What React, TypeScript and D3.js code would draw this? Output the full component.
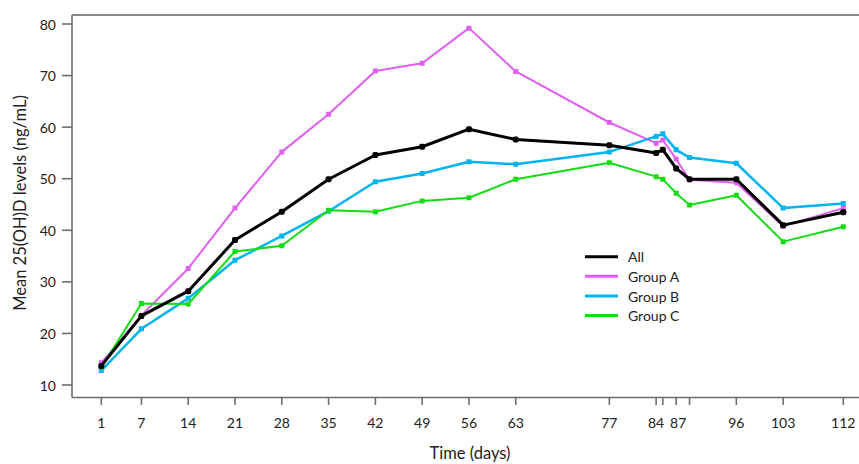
import React from "react";
import * as d3 from "d3";

const days = [1, 7, 14, 21, 28, 35, 42, 49, 56, 63, 77, 84, 85, 87, 89, 96, 103, 112];
const allValues = [13.7, 23.4, 28.2, 38.1, 43.6, 49.9, 54.6, 56.2, 59.6, 57.6, 56.5, 55.0, 55.6, 52.0, 49.9, 49.9, 41.0, 43.5];
const groupA = [14.3, 23.5, 32.6, 44.3, 55.2, 62.5, 70.9, 72.4, 79.2, 70.8, 60.9, 56.9, 57.5, 53.8, 49.8, 49.2, 40.8, 44.3];
const groupB = [12.8, 20.9, 26.8, 34.2, 38.9, 43.7, 49.4, 51.0, 53.3, 52.8, 55.2, 58.2, 58.7, 55.6, 54.1, 53.0, 44.3, 45.2];
const groupC = [13.4, 25.8, 25.7, 35.9, 37.0, 43.9, 43.6, 45.7, 46.3, 49.9, 53.1, 50.4, 49.9, 47.2, 44.9, 46.8, 37.8, 40.7];
const xTickLabels = [1, 7, 14, 21, 28, 35, 42, 49, 56, 63, 77, 84, 87, 96, 103, 112];
const yTicks = [10, 20, 30, 40, 50, 60, 70, 80];
const seriesNames = ["Group A", "Group B", "Group C", "All"];

const FONT = "Lato, 'Open Sans', sans-serif";

export default function App() {
  const x = d3.scaleLinear().domain([1, 112]).range([101.3, 843.3]);
  const y = d3.scaleLinear().domain([10, 80]).range([385, 24]);
  const line = d3
    .line<number>()
    .x((_, i) => x(days[i]))
    .y((v) => y(v));

  const series = [
    { name: seriesNames[0], values: groupA, color: "#e05ef2", width: 2 },
    { name: seriesNames[1], values: groupB, color: "#00b4f0", width: 2.5 },
    { name: seriesNames[2], values: groupC, color: "#12dc12", width: 2 },
    { name: seriesNames[3], values: allValues, color: "#000000", width: 3 },
  ];
  const legendOrder = [series[3], series[0], series[1], series[2]];
  const legendY = [256.7, 276.3, 296, 315.5];
  const axisColor = "#6e6e6e";

  return (
    <svg
      width={859}
      height={464}
      style={{ position: "absolute", left: 0, top: 0, background: "#fff" }}
      fontFamily={FONT}
    >
      <rect x={0} y={0} width={859} height={464} fill="#fff" />
      {/* frame */}
      <line x1={72} x2={872} y1={15} y2={15} stroke="#8a8a8a" strokeWidth={2} />
      <line x1={72} x2={72} y1={15} y2={397.5} stroke={axisColor} strokeWidth={1.6} />
      <line x1={72} x2={872} y1={397.5} y2={397.5} stroke={axisColor} strokeWidth={1.6} />

      {/* y ticks */}
      {yTicks.map((t) => (
        <g key={t}>
          <line x1={62} x2={72} y1={y(t)} y2={y(t)} stroke={axisColor} strokeWidth={1.6} />
          <text x={56} y={y(t)} textAnchor="end" dominantBaseline="central" fontSize={14} fill="#222">
            {t}
          </text>
        </g>
      ))}

      {/* x ticks */}
      {days.map((d) => (
        <line key={d} x1={x(d)} x2={x(d)} y1={397.5} y2={405} stroke={axisColor} strokeWidth={1.6} />
      ))}
      {xTickLabels.map((d) => (
        <text
          key={d}
          x={x(d) + (d === 87 ? 2 : 0)}
          y={422}
          textAnchor="middle"
          dominantBaseline="central"
          fontSize={14}
          fill="#222"
        >
          {d}
        </text>
      ))}

      <text
        transform={`translate(20,203) rotate(-90)`}
        textAnchor="middle"
        dominantBaseline="central"
        fontSize={16.5}
        fill="#222"
      >
        Mean 25(OH)D levels (ng/mL)
      </text>
      <text x={470} y={453} textAnchor="middle" dominantBaseline="central" fontSize={16.5} fill="#222">
        Time (days)
      </text>

      {/* series */}
      {series.map((s) => (
        <g key={s.name}>
          <path d={line(s.values) || ""} fill="none" stroke={s.color} strokeWidth={s.width} strokeLinejoin="round" />
          {s.values.map((v, i) => (
            <rect
              key={i}
              x={x(days[i]) - (s.name === "All" ? 3 : 2.5)}
              y={y(v) - (s.name === "All" ? 3 : 2.5)}
              width={s.name === "All" ? 6 : 5}
              height={s.name === "All" ? 6 : 5}
              rx={s.name === "All" ? 2 : 0.5}
              fill={s.color}
            />
          ))}
        </g>
      ))}

      {/* legend */}
      {legendOrder.map((s, i) => (
        <g key={s.name}>
          <line x1={585} x2={618} y1={legendY[i]} y2={legendY[i]} stroke={s.color} strokeWidth={3} />
          <text x={628} y={legendY[i]} dominantBaseline="central" fontSize={14} fill="#222">
            {s.name}
          </text>
        </g>
      ))}
    </svg>
  );
}
